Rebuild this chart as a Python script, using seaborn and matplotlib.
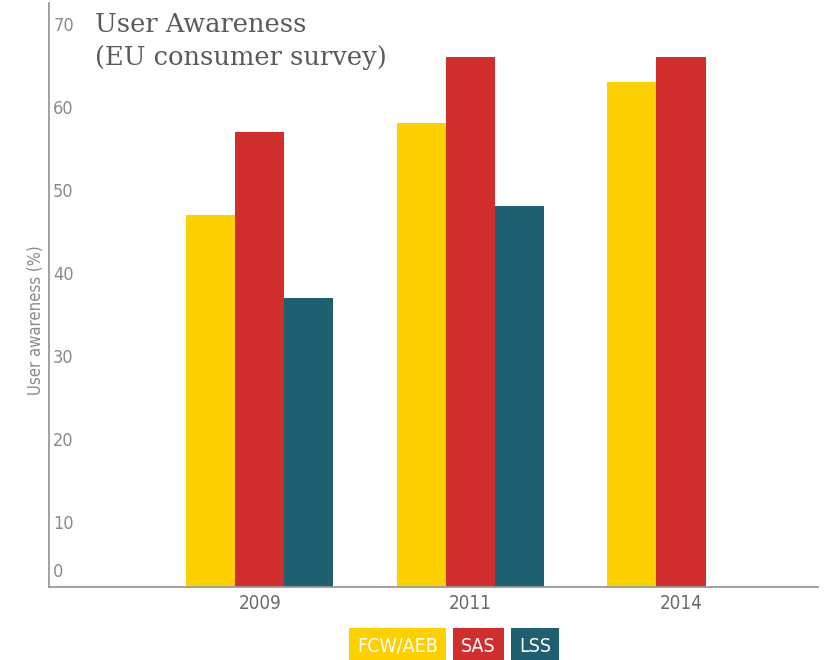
import numpy as np
import pandas as pd
import matplotlib
matplotlib.use("Agg")
import matplotlib.pyplot as plt
import seaborn as sns

# Survey results (share of respondents aware of each system, %)
years = ["2009", "2011", "2014"]
systems = ["FCW/AEB", "SAS", "LSS"]
fcw_aeb = [47, 58, 63]
sas = [57, 66, 66]
lss = [37, 48, np.nan]  # LSS not surveyed in 2014

colors = ["#FDD000", "#D12F2E", "#1F6070"]
ytick_values = [10, 20, 30, 40, 50, 60, 70]

df = pd.DataFrame({
    "year": years * 3,
    "system": [s for s in systems for _ in years],
    "awareness": fcw_aeb + sas + lss,
})

sns.set_theme(style="white")
plt.rcParams["font.family"] = ["DejaVu Sans"]
plt.rcParams["font.stretch"] = "condensed"

W, H = 825, 660
fig = plt.figure(figsize=(W / 100, H / 100), dpi=100)
ax = fig.add_axes([49 / W, 1 - 587 / H, (818 - 49) / W, (587 - 3) / H])

sns.barplot(
    data=df, x="year", y="awareness", hue="system",
    order=years, hue_order=systems, palette=colors,
    width=0.7, linewidth=0, saturation=1, ax=ax,
)

ax.set_xlim(-1.0, 2.65)
ax.set_ylim(2.17, 72.5)

# axes styling
for side in ("top", "right"):
    ax.spines[side].set_visible(False)
for side in ("left", "bottom"):
    ax.spines[side].set_color("#9a9a9a")
    ax.spines[side].set_linewidth(1.3)

ax.set_yticks(ytick_values)
ax.set_yticklabels([str(v) for v in ytick_values])
ax.tick_params(axis="y", length=0, pad=-3, labelsize=13, labelcolor="#8a8a8a")
for lbl in ax.get_yticklabels():
    lbl.set_horizontalalignment("left")
ax.annotate("0", xy=(0, 0), xycoords="axes fraction", xytext=(3, 4),
            textcoords="offset points", ha="left", va="bottom",
            fontsize=13, color="#8a8a8a")

ax.tick_params(axis="x", length=0, pad=5, labelsize=13.5, labelcolor="#6a6a6a")
ax.set_xlabel("")
ax.set_ylabel("User awareness (%)", fontsize=12, color="#8a8a8a")
ax.yaxis.set_label_coords(-0.005, 0.457)

# title in the upper left corner
fig.text(95 / W, 1 - 12 / H, "User Awareness\n(EU consumer survey)",
         family="DejaVu Serif", fontstretch="normal", fontsize=18.5,
         color="#5a5a5a", ha="left", va="top", linespacing=1.4)

# legend: coloured boxes with white labels
handles, labels = ax.get_legend_handles_labels()
ax.get_legend().remove()
leg = ax.legend(handles, labels, loc="center",
                bbox_to_anchor=(454 / W, 1 - 646 / H), bbox_transform=fig.transFigure,
                ncol=3, frameon=False, handlelength=0, handletextpad=0,
                columnspacing=1.2, fontsize=14)
for txt, hnd, col in zip(leg.get_texts(), leg.legend_handles, colors):
    hnd.set_visible(False)
    txt.set_color("white")
    txt.set_bbox(dict(boxstyle="square,pad=0.42", facecolor=col, edgecolor="none"))

fig.savefig("out.png", dpi=100, facecolor="white")
